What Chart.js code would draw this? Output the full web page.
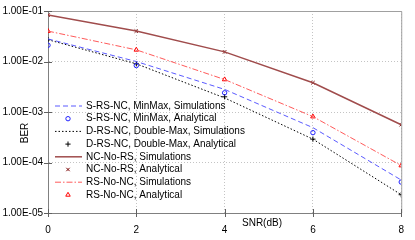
<!DOCTYPE html>
<html>
<head>
<meta charset="utf-8">
<script src="https://cdn.jsdelivr.net/npm/chart.js@4/dist/chart.umd.min.js"></script>
<style>
  html, body { margin: 0; padding: 0; background: #fff; }
  #wrap { width: 415px; height: 240px; }
</style>
</head>
<body>
<div id="wrap"><canvas id="c" width="415" height="240"></canvas></div>
<script>
/* ─── Data ──────────────────────────────────────────────────────────────── */
const snr     = [0, 2, 4, 6, 8];
const yTicks  = [1e-1, 1e-2, 1e-3, 1e-4, 1e-5];
const srsSim  = [0.028, 0.0100, 0.0028, 4.9e-4, 4.5e-5];
const srsAna  = [0.021, 0.0083, 0.0024, 3.9e-4, 4.1e-5];
const drsSim  = [0.027, 0.0090, 0.0019, 2.9e-4, 2.3e-5];
const drsAna  = [0.027, 0.0090, 0.0020, 2.9e-4, 2.3e-5];
const ncSim   = [0.083, 0.040, 0.0155, 0.0038, 5.6e-4];
const ncAna   = [0.083, 0.040, 0.0155, 0.0038, 5.6e-4];
const rsSim   = [0.040, 0.017, 0.0044, 8.1e-4, 8.7e-5];
const rsAna   = [0.040, 0.017, 0.0044, 8.1e-4, 8.7e-5];

const FONT = "'Liberation Sans', Arial, sans-serif";
const pts = arr => arr.map((v, i) => ({ x: snr[i], y: v }));

function simLine(label, data, color, dash, width = 1) {
  return { label, data: pts(data), borderColor: color, borderWidth: width,
    borderDash: dash, pointRadius: 0, showLine: true, fill: false, tension: 0 };
}
function anaMarks(label, data, color, style, r = 3) {
  return { label, data: pts(data), borderColor: color, backgroundColor: 'rgba(0,0,0,0)',
    borderWidth: 1, pointStyle: style, pointRadius: r, showLine: false };
}

const datasets = [
  simLine('S-RS-NC, MinMax, Simulations', srsSim, '#5a5aff', [5, 3]),
  anaMarks('S-RS-NC, MinMax, Analytical', srsAna, '#2020ff', 'circle', 2.2),
  simLine('D-RS-NC, Double-Max, Simulations', drsSim, '#000000', [1.5, 2]),
  anaMarks('D-RS-NC, Double-Max, Analytical', drsAna, '#000000', 'cross', 2.6),
  simLine('NC-No-RS, Simulations', ncSim, '#a04c4c', [], 1.5),
  anaMarks('NC-No-RS, Analytical', ncAna, '#7a0000', 'crossRot', 2.4),
  simLine('RS-No-NC, Simulations', rsSim, '#ff5a5a', [6, 2, 1.5, 2]),
  anaMarks('RS-No-NC, Analytical', rsAna, '#ff0000', 'triangle', 2.6),
];

/* ─── Custom drawing: box, crossing ticks, titles, legend ─────────────── */
const decor = {
  id: 'decor',
  afterDraw(chart) {
    const { ctx, chartArea: a, scales: { x, y } } = chart;
    ctx.save();
    // top / right frame
    ctx.strokeStyle = '#a0a0a0'; ctx.lineWidth = 1; ctx.setLineDash([]);
    ctx.beginPath();
    ctx.moveTo(a.left, a.top + 0.5); ctx.lineTo(a.right + 0.5, a.top + 0.5);
    ctx.lineTo(a.right + 0.5, a.bottom);
    ctx.stroke();
    // crossing tick marks
    ctx.strokeStyle = '#606060';
    ctx.beginPath();
    yTicks.forEach(v => { const py = Math.round(y.getPixelForValue(v)) + 0.5;
      ctx.moveTo(a.left - 4, py); ctx.lineTo(a.left + 4, py); });
    snr.forEach(v => { const px = Math.round(x.getPixelForValue(v)) + 0.5;
      ctx.moveTo(px, a.bottom - 4); ctx.lineTo(px, a.bottom + 4); });
    ctx.stroke();
    // axis titles
    ctx.fillStyle = '#000'; ctx.font = '10px ' + FONT;
    ctx.textAlign = 'center'; ctx.textBaseline = 'middle';
    ctx.fillText('SNR(dB)', 262, 223);
    ctx.save(); ctx.translate(25, 133); ctx.rotate(-Math.PI / 2);
    ctx.fillText('BER', 0, 0); ctx.restore();
    // legend
    ctx.textAlign = 'left';
    datasets.forEach((ds, i) => {
      const ly = 106 + i * 12.7;
      if (ds.showLine) {
        ctx.strokeStyle = ds.borderColor; ctx.lineWidth = ds.borderWidth;
        ctx.setLineDash(ds.borderDash);
        ctx.beginPath(); ctx.moveTo(55, ly); ctx.lineTo(82, ly); ctx.stroke();
        ctx.setLineDash([]);
      } else {
        ctx.strokeStyle = ds.borderColor; ctx.fillStyle = 'rgba(0,0,0,0)'; ctx.lineWidth = 1;
        Chart.helpers.drawPoint(ctx, { pointStyle: ds.pointStyle, radius: ds.pointRadius,
          borderWidth: 1, rotation: 0 }, 68, ly);
      }
      ctx.fillStyle = '#000';
      ctx.fillText(ds.label, 86, ly);
    });
    ctx.restore();
  }
};

new Chart(document.getElementById('c'), {
  type: 'scatter',
  data: { datasets },
  options: {
    responsive: false, animation: false,
    layout: { padding: { top: 10, right: 7, left: 0, bottom: 0 } },
    plugins: { legend: { display: false }, tooltip: { enabled: false } },
    scales: {
      x: {
        type: 'linear', min: 0, max: 8,
        afterFit: s => { s.height = 27; },
        afterBuildTicks: s => { s.ticks = snr.map(v => ({ value: v })); },
        grid: { color: '#c4c4c4', drawTicks: false },
        border: { color: '#808080', dash: [1, 2] },
        ticks: { padding: 11, color: '#000', font: { family: FONT, size: 10 } },
      },
      y: {
        type: 'logarithmic', min: 1e-5, max: 1e-1,
        afterFit: s => { s.width = 48; },
        afterBuildTicks: s => { s.ticks = yTicks.map(v => ({ value: v })); },
        grid: { color: '#c4c4c4', drawTicks: false },
        border: { color: '#808080', dash: [1, 2] },
        ticks: { padding: 5, color: '#000', font: { family: FONT, size: 10 },
          callback: v => v.toExponential(2).toUpperCase().replace(/E([+-])(\d)$/, 'E$10$2') },
      },
    },
  },
  plugins: [decor],
});
</script>
</body>
</html>
